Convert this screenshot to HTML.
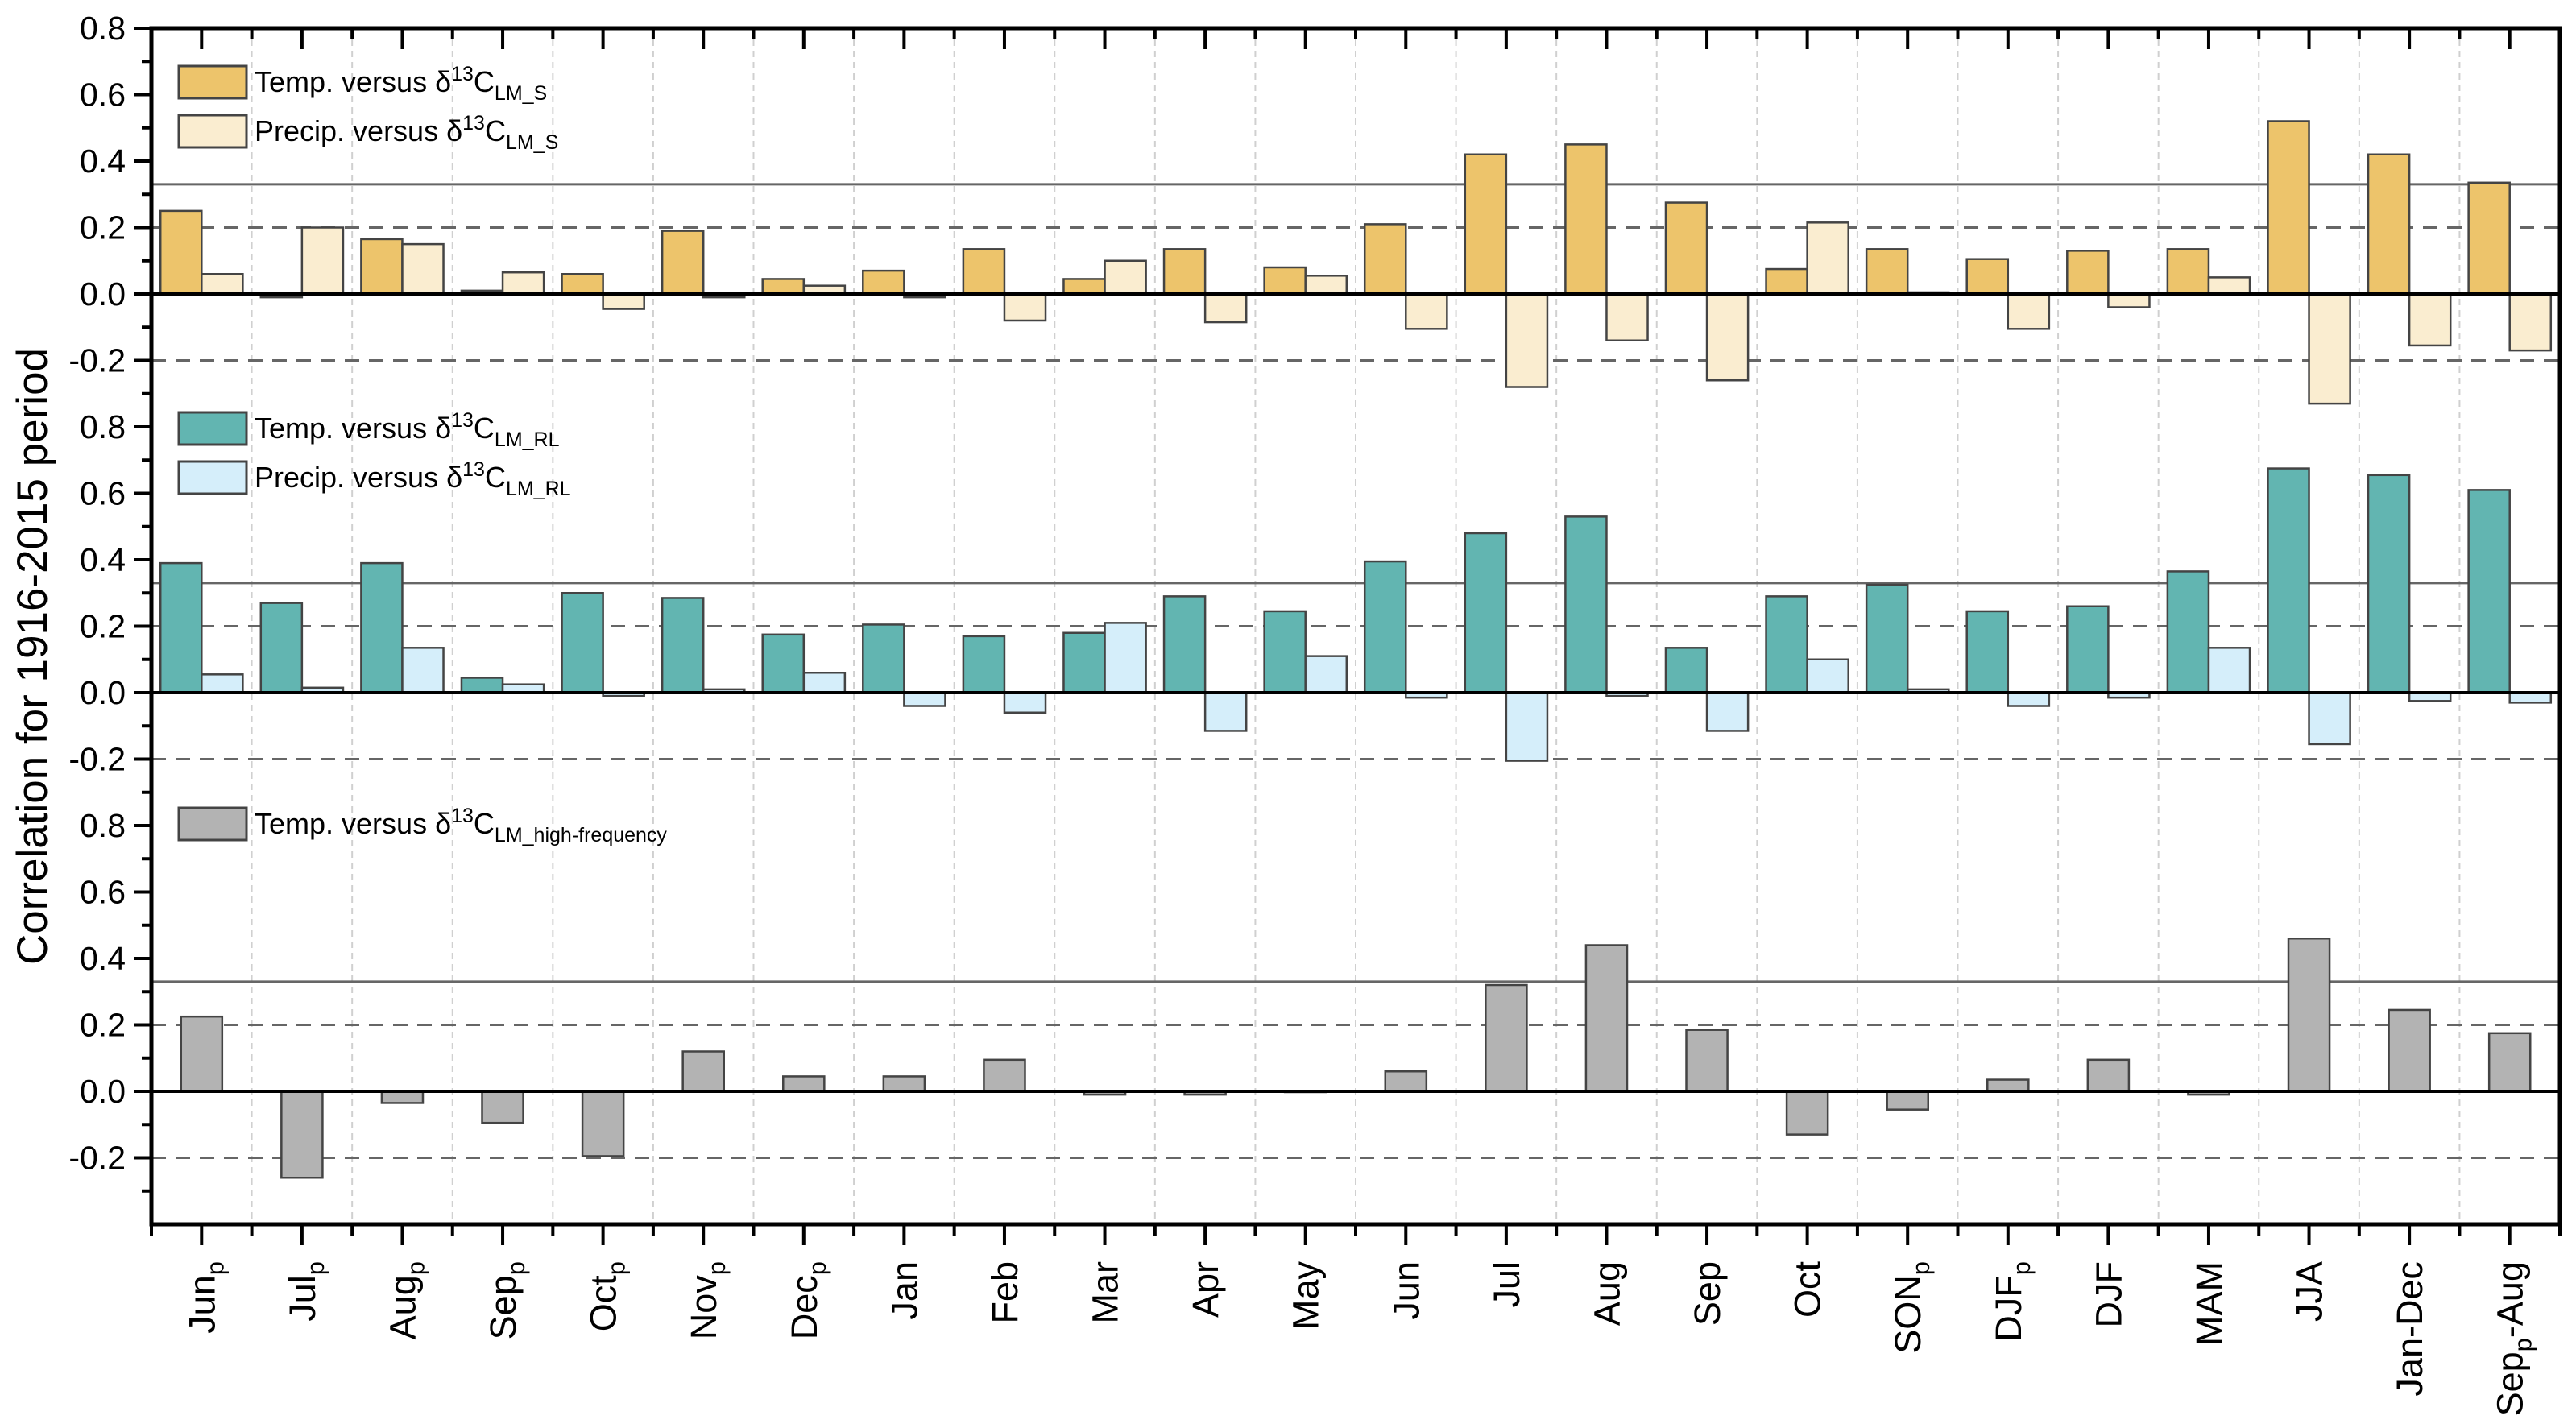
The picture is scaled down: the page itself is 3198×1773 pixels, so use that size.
<!DOCTYPE html>
<html><head><meta charset="utf-8"><style>
html,body{margin:0;padding:0;background:#fff;}
svg{display:block;font-family:"Liberation Sans",sans-serif;}
</style></head><body>
<svg id="chart" width="3198" height="1773" viewBox="0 0 3198 1773" xmlns="http://www.w3.org/2000/svg"></svg>
<script>
const categories=["Jun|p","Jul|p","Aug|p","Sep|p","Oct|p","Nov|p","Dec|p","Jan","Feb","Mar","Apr","May","Jun","Jul","Aug","Sep","Oct","SON|p","DJF|p","DJF","MAM","JJA","Jan-Dec","Sep|p|-Aug"];
const tempS=[0.25,-0.01,0.165,0.01,0.06,0.19,0.045,0.07,0.135,0.045,0.135,0.08,0.21,0.42,0.45,0.275,0.075,0.135,0.105,0.13,0.135,0.52,0.42,0.335];
const precS=[0.06,0.20,0.15,0.065,-0.045,-0.01,0.025,-0.01,-0.08,0.10,-0.085,0.055,-0.105,-0.28,-0.14,-0.26,0.215,0.005,-0.105,-0.04,0.05,-0.33,-0.155,-0.17];
const tempRL=[0.39,0.27,0.39,0.045,0.30,0.285,0.175,0.205,0.17,0.18,0.29,0.245,0.395,0.48,0.53,0.135,0.29,0.325,0.245,0.26,0.365,0.675,0.655,0.61];
const precRL=[0.055,0.015,0.135,0.025,-0.01,0.01,0.06,-0.04,-0.06,0.21,-0.115,0.11,-0.015,-0.205,-0.01,-0.115,0.10,0.01,-0.04,-0.015,0.135,-0.155,-0.025,-0.03];
const tempHF=[0.225,-0.26,-0.035,-0.095,-0.195,0.12,0.045,0.045,0.095,-0.01,-0.01,0,0.06,0.32,0.44,0.185,-0.13,-0.055,0.035,0.095,-0.01,0.46,0.245,0.175];
const yTicks=["0.8","0.6","0.4","0.2","0.0","-0.2"];
const yTickVals=[0.8,0.6,0.4,0.2,0,-0.2];

const NS="http://www.w3.org/2000/svg";
const svg=document.getElementById('chart');
const L=188,R=3178,T=35,B=1520;
const unit=(B-T)/3.6;
const cw=(R-L)/categories.length;
const bw=cw*0.41;
function xC(i){return L+cw*(i+0.5);}
function yP(p,v){return T+(p*1.2+0.8-v)*unit;}
function el(tag,attrs,parent){const e=document.createElementNS(NS,tag);for(const k in attrs)e.setAttribute(k,attrs[k]);(parent||svg).appendChild(e);return e;}

for(let i=1;i<categories.length;i++){
  const g=el('line',{x1:L+cw*i,x2:L+cw*i,y1:T,y2:B,stroke:'#d0d0d0','stroke-width':2,'stroke-dasharray':'8,6'});
  
  
}
for(let p=0;p<3;p++){
  [[0.33,'none','#666'],[0.2,'18,12','#666'],[-0.2,'18,12','#666']].forEach(r=>{
    const ln=el('line',{x1:L,x2:R,y1:yP(p,r[0]),y2:yP(p,r[0]),stroke:r[2],'stroke-width':3,'stroke-dasharray':r[1]});
    
    
  });
}
function bar(p,i,v,off,fill,name){
  const y0=yP(p,0),y1=yP(p,v);
  const r=el('rect',{x:xC(i)+off,y:Math.min(y0,y1),width:bw,height:Math.max(Math.abs(y1-y0),1),fill:fill,stroke:'#444','stroke-width':2.5});
  
  
}
categories.forEach((c,i)=>{
  bar(0,i,tempS[i],-bw,'#EDC46B','bar-temp-lms');
  bar(0,i,precS[i],0,'#FAEDD0','bar-precip-lms');
  bar(1,i,tempRL[i],-bw,'#62B5B1','bar-temp-lmrl');
  bar(1,i,precRL[i],0,'#D5EEFA','bar-precip-lmrl');
  bar(2,i,tempHF[i],-bw/2,'#B3B3B3','bar-temp-hf');
});
for(let p=0;p<3;p++){
  const z=el('line',{x1:L,x2:R,y1:yP(p,0),y2:yP(p,0),stroke:'#000','stroke-width':4});
  
  
}
const fr=el('rect',{x:L,y:T,width:R-L,height:B-T,fill:'none',stroke:'#000','stroke-width':5});


for(let p=0;p<3;p++){
  yTickVals.forEach((v,k)=>{
    const y=yP(p,v);
    const t=el('line',{x1:L-22,x2:L,y1:y,y2:y,stroke:'#000','stroke-width':4});
    
    
    const tx=el('text',{x:L-32,y:y+14,'text-anchor':'end','font-size':41});
    tx.textContent=yTicks[k];
    
    
  });
  for(let k=0;k<12;k++){
    const v=0.7-k*0.1;
    if(Math.abs(Math.round(v*10))%2===0) continue;
    const y=yP(p,v);
    const m=el('line',{x1:L-12,x2:L,y1:y,y2:y,stroke:'#000','stroke-width':4});
    
    
  }
}
categories.forEach((c,i)=>{
  const x=xC(i);
  const t=el('line',{x1:x,x2:x,y1:B,y2:B+26,stroke:'#000','stroke-width':4});
  
  
  const tt=el('line',{x1:x,x2:x,y1:T,y2:T+26,stroke:'#000','stroke-width':4});
  
  
  const parts=c.split('|');
  const tx=el('text',{transform:`translate(${x+16},1566) rotate(-90)`,'text-anchor':'end','font-size':45});
  
  
  const s1=el('tspan',{},tx);s1.textContent=parts[0];
  if(parts.length>1){
    const s2=el('tspan',{'font-size':31,dy:11},tx);s2.textContent=parts[1];
    if(parts.length>2){const s3=el('tspan',{dy:-11},tx);s3.textContent=parts[2];}
  }
});
for(let i=0;i<=categories.length;i++){
  const x=L+cw*i;
  const m=el('line',{x1:x,x2:x,y1:B,y2:B+14,stroke:'#000','stroke-width':4});
  
  
  const m2=el('line',{x1:x,x2:x,y1:T,y2:T+14,stroke:'#000','stroke-width':4});
  
  
}
const yt=el('text',{transform:'translate(58,815) rotate(-90)','text-anchor':'middle','font-size':53});
yt.textContent='Correlation for 1916-2015 period';


function legend(y,fill,pre,sub,name){
  const g=el('g',{});
  
  
  el('rect',{x:222,y:y,width:84,height:40,fill:fill,stroke:'#444','stroke-width':3},g);
  const t=el('text',{x:316,y:y+32,'font-size':36},g);
  const a=el('tspan',{},t);a.textContent=pre+' versus δ';
  const b=el('tspan',{'font-size':25,dy:-14},t);b.textContent='13';
  const c=el('tspan',{dy:14},t);c.textContent='C';
  const d=el('tspan',{'font-size':25,dy:10},t);d.textContent=sub;
}
legend(82,'#EDC46B','Temp.','LM_S','legend-temp-lms');
legend(143,'#FAEDD0','Precip.','LM_S','legend-precip-lms');
legend(512,'#62B5B1','Temp.','LM_RL','legend-temp-lmrl');
legend(573,'#D5EEFA','Precip.','LM_RL','legend-precip-lmrl');
legend(1003,'#B3B3B3','Temp.','LM_high-frequency','legend-temp-hf');
</script>
</body></html>
